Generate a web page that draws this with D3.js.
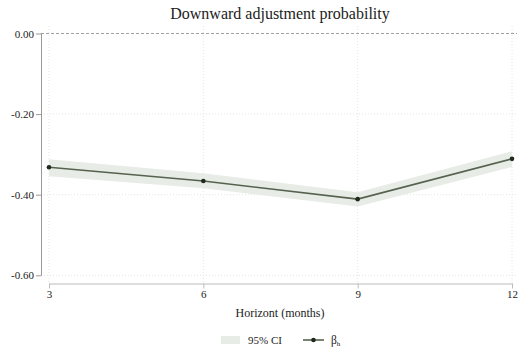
<!DOCTYPE html>
<html>
<head>
<meta charset="utf-8">
<script src="https://cdn.jsdelivr.net/npm/d3@7"></script>
<style>
  body { margin: 0; background: #fff; }
  svg text { font-family: "Liberation Serif", "DejaVu Serif", serif; fill: #222; }
</style>
</head>
<body>
<div id="chart"></div>
<script>
// horizon in months
var horizons = [3, 6, 9, 12];
var beta     = [-0.332, -0.366, -0.411, -0.311];
var ciLow    = [-0.354, -0.384, -0.429, -0.331];
var ciHigh   = [-0.312, -0.347, -0.394, -0.292];
var yTicks   = [0, -0.2, -0.4, -0.6];

var width  = 519,
    height = 348;

var svg = d3.select("#chart").append("svg")
            .attr("width", width)
            .attr("height", height);

var x = d3.scaleLinear().domain([3, 12]).range([49, 512]);
var y = d3.scaleLinear().domain([0, -0.6]).range([33.5, 275.3]);

var rows = horizons.map(function(h, i){ return {h:h, b:beta[i], lo:ciLow[i], hi:ciHigh[i]}; });

// plain hyphen minus like the original
var fmt = function(d){ return d3.format(".2f")(d).replace("\u2212", "-"); };

// grid
svg.selectAll("line.vgrid")
   .data(horizons)
   .enter().append("line")
   .attr("class", "vgrid")
   .attr("x1", function(d){ return x(d); })
   .attr("x2", function(d){ return x(d); })
   .attr("y1", 26).attr("y2", 283)
   .attr("stroke", "#ddd").attr("stroke-width", 0.8)
   .attr("stroke-dasharray", "1,2");

svg.selectAll("line.hgrid")
   .data(yTicks.filter(function(d){ return d !== 0; }))
   .enter().append("line")
   .attr("class", "hgrid")
   .attr("x1", 41).attr("x2", 517)
   .attr("y1", function(d){ return y(d); })
   .attr("y2", function(d){ return y(d); })
   .attr("stroke", "#ddd").attr("stroke-width", 0.8)
   .attr("stroke-dasharray", "1,2");

// zero reference line
svg.append("line")
   .attr("x1", 41).attr("x2", 517)
   .attr("y1", y(0)).attr("y2", y(0))
   .attr("stroke", "#888").attr("stroke-width", 0.8)
   .attr("stroke-dasharray", "3,2");

// confidence band
var area = d3.area()
   .x(function(d){ return x(d.h); })
   .y0(function(d){ return y(d.lo); })
   .y1(function(d){ return y(d.hi); });

svg.append("path")
   .datum(rows)
   .attr("d", area)
   .attr("fill", "#e7ece7");

// estimate line
var line = d3.line()
   .x(function(d){ return x(d.h); })
   .y(function(d){ return y(d.b); });

svg.append("path")
   .datum(rows)
   .attr("d", line)
   .attr("fill", "none")
   .attr("stroke", "#56624e")
   .attr("stroke-width", 1.6);

svg.selectAll("circle.pt")
   .data(rows)
   .enter().append("circle")
   .attr("class", "pt")
   .attr("cx", function(d){ return x(d.h); })
   .attr("cy", function(d){ return y(d.b); })
   .attr("r", 2.3)
   .attr("fill", "#1e2a1a");

// axes
var yAxis = d3.axisLeft(y).tickValues(yTicks).tickFormat(fmt).tickSizeInner(5).tickSizeOuter(0).tickPadding(2);
var gy = svg.append("g").attr("transform", "translate(41,0)").call(yAxis);
gy.select(".domain").attr("stroke", "#999");
gy.selectAll(".tick line").attr("stroke", "#999");
gy.selectAll("text").attr("font-size", 11).attr("fill", "#222");

var xAxis = d3.axisBottom(x).tickValues(horizons).tickFormat(d3.format("d")).tickSizeInner(5).tickSizeOuter(0).tickPadding(2);
var gx = svg.append("g").attr("transform", "translate(0,283.5)").call(xAxis);
gx.select(".domain").attr("stroke", "#bbb");
gx.selectAll(".tick line").attr("stroke", "#bbb");
gx.selectAll("text").attr("font-size", 11).attr("fill", "#222");

// titles
svg.append("text")
   .attr("x", 280).attr("y", 19)
   .attr("text-anchor", "middle")
   .attr("font-size", 16)
   .text("Downward adjustment probability");

svg.append("text")
   .attr("x", 280).attr("y", 317)
   .attr("text-anchor", "middle")
   .attr("font-size", 12)
   .text("Horizont (months)");

// legend
var lg = svg.append("g");
lg.append("rect")
  .attr("x", 221).attr("y", 336).attr("width", 19).attr("height", 8)
  .attr("fill", "#e7ece7");
lg.append("text")
  .attr("x", 248).attr("y", 344)
  .attr("font-size", 11)
  .text("95% CI");
lg.append("line")
  .attr("x1", 303).attr("x2", 324).attr("y1", 340).attr("y2", 340)
  .attr("stroke", "#56624e").attr("stroke-width", 1.6);
lg.append("circle")
  .attr("cx", 313.5).attr("cy", 340).attr("r", 2.3)
  .attr("fill", "#1e2a1a");
var bt = lg.append("text")
  .attr("x", 331).attr("y", 344)
  .attr("font-size", 11.5);
bt.append("tspan").text("β");
bt.append("tspan").attr("font-size", 7).attr("dy", 2).text("h");
</script>
</body>
</html>
